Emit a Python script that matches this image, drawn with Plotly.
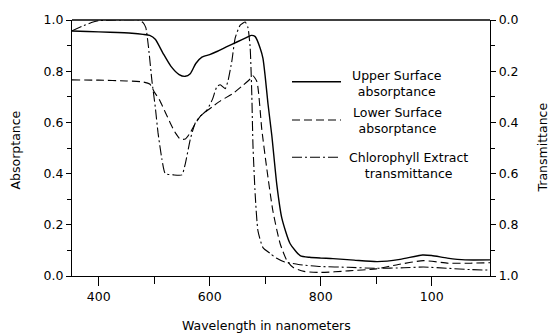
import plotly.graph_objects as go

# ---- data ----
wl_upper = [352, 380, 420, 460, 480, 492, 502, 516, 530, 545, 556, 565, 575, 586, 600, 613,
            630, 650, 665, 675, 682, 691, 696, 700, 705, 712, 721, 730, 745, 763, 780, 800,
            822, 860, 902, 943, 983, 1000, 1028, 1060, 1105]
upper_abs = [0.957, 0.955, 0.952, 0.948, 0.944, 0.94, 0.925, 0.87, 0.82, 0.787, 0.78, 0.79,
             0.83, 0.855, 0.865, 0.877, 0.895, 0.915, 0.93, 0.94, 0.935, 0.89, 0.85, 0.78,
             0.674, 0.548, 0.356, 0.226, 0.126, 0.08, 0.073, 0.07, 0.068, 0.062, 0.056,
             0.065, 0.082, 0.08, 0.07, 0.063, 0.063]

wl_lower = [352, 400, 450, 480, 492, 500, 510, 520, 529, 538, 547, 556, 565, 574, 583, 595,
            606, 620, 642, 660, 673, 678, 685, 694, 703, 714, 727, 739, 750, 770, 800, 850,
            900, 940, 985, 1030, 1070, 1105]
lower_abs = [0.766, 0.765, 0.762, 0.758, 0.75, 0.72, 0.686, 0.64, 0.598, 0.56, 0.535, 0.535,
             0.56, 0.595, 0.624, 0.645, 0.663, 0.685, 0.713, 0.745, 0.77, 0.782, 0.76, 0.571,
             0.418, 0.253, 0.126, 0.061, 0.034, 0.018, 0.014, 0.02, 0.028, 0.045, 0.06,
             0.05, 0.05, 0.052]

wl_chl = [352, 370, 387, 400, 430, 472, 480, 485, 490, 496, 502, 507, 514, 520, 535, 550,
          556, 565, 574, 583, 595, 605, 613, 619, 628, 633, 640, 646, 655, 664, 669, 673,
          676, 678, 682, 687, 696, 709, 720, 735, 760, 800, 850, 900, 950, 985, 1030, 1070,
          1105]
chl_trans = [0.042, 0.025, 0.01, 0.003, 0.0, 0.0, 0.01, 0.03, 0.11, 0.238, 0.34, 0.441,
             0.544, 0.60, 0.605, 0.605, 0.563, 0.467, 0.402, 0.376, 0.352, 0.31, 0.26,
             0.253, 0.268, 0.238, 0.16, 0.07, 0.02, 0.008, 0.03, 0.11, 0.30, 0.49, 0.682,
             0.824, 0.889, 0.912, 0.93, 0.945, 0.955, 0.963, 0.966, 0.97, 0.968, 0.965,
             0.97, 0.975, 0.977]

x_ticks = [400, 600, 800, 1000]
x_ticktext = ["400", "600", "800", "100"]
x_minor = [500, 700, 900]
y_ticks = [0, 0.2, 0.4, 0.6, 0.8, 1.0]
y_ticktext = ["0.0", "0.2", "0.4", "0.6", "0.8", "1.0"]

names = ["Upper Surface<br>absorptance", "Lower Surface<br>absorptance",
         "Chlorophyll Extract<br>transmittance"]

FONT = "DejaVu Sans"
W, H = 554, 335
L, R, T, B = 72, 64, 15, 59

fig = go.Figure()
fig.add_trace(go.Scatter(x=wl_upper, y=upper_abs, mode="lines",
                         line=dict(color="black", width=1.4, shape="spline", smoothing=0.6),
                         showlegend=False))
fig.add_trace(go.Scatter(x=wl_lower, y=lower_abs, mode="lines",
                         line=dict(color="black", width=1.1, dash="8px,4px",
                                   shape="spline", smoothing=0.6),
                         showlegend=False))
fig.add_trace(go.Scatter(x=wl_chl, y=chl_trans, mode="lines", yaxis="y2",
                         line=dict(color="black", width=1.1, dash="10px,3px,2px,3px",
                                   shape="spline", smoothing=0.5),
                         showlegend=False))

pw = W - L - R
ph = H - T - B


def px2paper(px, py):
    return (px - L) / pw, (H - B - py) / ph


# legend drawn as line samples + centred labels
leg_rows = [(78, 79.5, None), (117, 117.5, "8px,4px"), (155, 163.5, "10px,3px,2px,3px")]
leg_text_x = [397, 397, 408]
for i, (ly, ty, dash) in enumerate(leg_rows):
    x0, y0 = px2paper(292, ly)
    x1, _ = px2paper(341, ly)
    fig.add_shape(type="line", xref="paper", yref="paper", x0=x0, x1=x1, y0=y0, y1=y0,
                  line=dict(color="black", width=1.4 if dash is None else 1.1, dash=dash))
    tx, typ = px2paper(leg_text_x[i], ty)
    fig.add_annotation(xref="paper", yref="paper", x=tx, y=typ, text=names[i],
                       showarrow=False, align="center", xanchor="center", yanchor="middle",
                       font=dict(family=FONT, size=12.5, color="black"))

# axis titles
ax, ay = px2paper(266, 326)
fig.add_annotation(xref="paper", yref="paper", x=ax, y=ay, text="Wavelength in nanometers",
                   showarrow=False, xanchor="center", yanchor="middle",
                   font=dict(family=FONT, size=12.5, color="black"))
ax, ay = px2paper(15, 148)
fig.add_annotation(xref="paper", yref="paper", x=ax, y=ay, text="Absorptance", textangle=-90,
                   showarrow=False, xanchor="center", yanchor="middle",
                   font=dict(family=FONT, size=12.5, color="black"))
ax, ay = px2paper(543, 145)
fig.add_annotation(xref="paper", yref="paper", x=ax, y=ay, text="Transmittance", textangle=-90,
                   showarrow=False, xanchor="center", yanchor="middle",
                   font=dict(family=FONT, size=12.5, color="black"))

minor_y = dict(tickmode="array", tickvals=[0.1, 0.3, 0.5, 0.7, 0.9], ticks="outside",
               ticklen=4, tickwidth=1.3, tickcolor="black", showgrid=False)

fig.update_layout(
    width=W, height=H,
    margin=dict(l=L, r=R, t=T, b=B),
    paper_bgcolor="white", plot_bgcolor="white",
    font=dict(family=FONT, size=12, color="black"),
    showlegend=False,
    xaxis=dict(range=[352, 1105], showline=True, linecolor="black", linewidth=1.3,
               mirror=False, showgrid=False, zeroline=False,
               tickmode="array", tickvals=x_ticks, ticktext=x_ticktext,
               ticks="outside", ticklen=9, tickwidth=1.3, tickcolor="black",
               minor=dict(tickmode="array", tickvals=x_minor, ticks="outside",
                          ticklen=7, tickwidth=1.3, tickcolor="black", showgrid=False),
               tickfont=dict(size=12.5)),
    yaxis=dict(range=[0, 1], showline=True, linecolor="black", linewidth=1.3,
               showgrid=False, zeroline=False,
               tickmode="array", tickvals=y_ticks, ticktext=y_ticktext,
               ticks="outside", ticklen=5, tickwidth=1.3, tickcolor="black",
               minor=minor_y, tickfont=dict(size=12.5)),
    yaxis2=dict(range=[1, 0], overlaying="y", side="right", showline=True,
                linecolor="black", linewidth=1.3, showgrid=False, zeroline=False,
                tickmode="array", tickvals=y_ticks, ticktext=y_ticktext,
                ticks="outside", ticklen=5, tickwidth=1.3, tickcolor="black",
                minor=minor_y, tickfont=dict(size=12.5)),
)
# top frame line
fig.add_shape(type="line", xref="paper", yref="paper", x0=0, x1=1, y0=1, y1=1,
              line=dict(color="black", width=1.3))

fig.write_html("out.html", config={"displayModeBar": False},
               post_script="document.body.style.margin='0px';document.body.style.overflow='hidden';")
